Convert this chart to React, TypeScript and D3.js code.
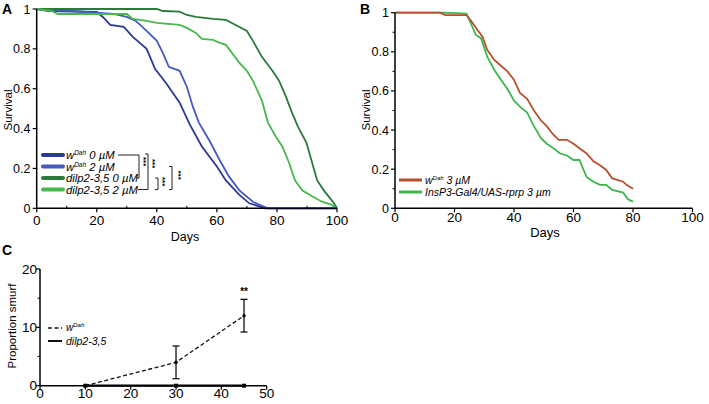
import React from "react";
import * as d3 from "d3";

// ---------- Panel A data ----------
const xTicksA = [0, 20, 40, 60, 80, 100];
const xMinorA = [10, 30, 50, 70, 90];
const yTicksA = [0, 0.2, 0.4, 0.6, 0.8, 1];
const yTickLabelsA = ["0", "0.2", "0.4", "0.6", "0.8", "1"];

const daysW0 = [0, 4, 20, 22, 24.5, 29, 32, 36.6, 39.4, 43, 47.6, 51, 55, 60, 63, 67.5, 70.8, 74, 76, 100];
const survW0 = [1, 0.99, 0.985, 0.96, 0.92, 0.91, 0.86, 0.8, 0.7, 0.63, 0.53, 0.42, 0.31, 0.21, 0.14, 0.067, 0.025, 0.01, 0, 0];

const daysW2 = [0, 12, 25.6, 30, 33, 36.6, 40, 42, 44, 47.6, 50, 52, 54, 57.5, 61, 64, 67.5, 72, 75, 77, 100];
const survW2 = [1, 0.99, 0.975, 0.96, 0.94, 0.89, 0.84, 0.78, 0.71, 0.69, 0.61, 0.51, 0.43, 0.34, 0.24, 0.16, 0.09, 0.033, 0.012, 0, 0];

const daysD0 = [0, 40, 42, 47.6, 50, 53, 58.7, 63, 65, 70, 72, 75, 78.5, 80.7, 83, 85, 87, 89.8, 91.7, 93.4, 95.6, 97.2, 99, 100];
const survD0 = [1, 1, 0.99, 0.987, 0.97, 0.96, 0.95, 0.945, 0.93, 0.89, 0.84, 0.76, 0.69, 0.64, 0.56, 0.48, 0.41, 0.33, 0.23, 0.14, 0.09, 0.06, 0.025, 0];

const daysD2 = [0, 5, 7, 30, 32, 36.6, 40, 47.6, 50, 53, 55, 58.7, 61, 63, 65, 67.5, 70, 72, 75, 77, 79.6, 81.8, 84, 86, 88.4, 91.7, 95, 98.3, 100];
const survD2 = [1, 0.99, 0.975, 0.975, 0.95, 0.94, 0.93, 0.92, 0.905, 0.88, 0.85, 0.845, 0.83, 0.82, 0.78, 0.73, 0.69, 0.64, 0.54, 0.43, 0.36, 0.31, 0.23, 0.14, 0.09, 0.06, 0.033, 0.017, 0];

const seriesA = [
  { label: " 0 µM", sup: true, days: daysW0, surv: survW0, color: "#2c3a94" },
  { label: " 2 µM", sup: true, days: daysW2, surv: survW2, color: "#4659c2" },
  { label: "dilp2-3,5 0 µM", sup: false, days: daysD0, surv: survD0, color: "#2b7a3c" },
  { label: "dilp2-3,5 2 µM", sup: false, days: daysD2, surv: survD2, color: "#48b84c" },
];

// ---------- Panel B data ----------
const xTicksB = [0, 20, 40, 60, 80, 100];
const yTicksB = [0, 0.2, 0.4, 0.6, 0.8, 1];
const yMinorB = [0.1, 0.3, 0.5, 0.7, 0.9];

const daysWB = [0, 15, 17, 24, 25.5, 27.8, 29.4, 31, 33.3, 35.5, 37.8, 40, 42, 44.4, 46.7, 49, 51, 53, 55, 57.8, 60, 62, 64.4, 66.7, 68.9, 71, 73, 76.7, 77.8, 80];
const survWB = [1, 1, 0.988, 0.988, 0.96, 0.91, 0.877, 0.81, 0.76, 0.73, 0.7, 0.656, 0.59, 0.56, 0.5, 0.45, 0.42, 0.38, 0.35, 0.35, 0.33, 0.307, 0.28, 0.24, 0.22, 0.196, 0.153, 0.136, 0.12, 0.1];

const daysIB = [0, 16, 24, 25.5, 27.2, 28.9, 31, 33.3, 35.5, 37.8, 40, 42, 44.4, 46.7, 49, 51, 53, 55.5, 57.8, 60, 62, 64.4, 66.7, 68.9, 71, 73, 76.7, 78.3, 80];
const survIB = [1, 1, 0.995, 0.945, 0.886, 0.87, 0.775, 0.71, 0.66, 0.61, 0.55, 0.52, 0.49, 0.42, 0.36, 0.33, 0.31, 0.28, 0.27, 0.247, 0.247, 0.16, 0.136, 0.12, 0.12, 0.094, 0.08, 0.046, 0.034];

// ---------- Panel C data ----------
const xTicksC = [0, 10, 20, 30, 40, 50];
const yTicksC = [0, 10, 20];
const yMinorC = [5, 15];
const daysC = [10, 30, 45];
const smurfW = [0, 4, 12];
const smurfWErr = [0, 2.8, 2.8];
const smurfD = [0, 0, 0];

const FONT = "'Liberation Sans', Arial, Helvetica, sans-serif";

function toPts(days: number[], vals: number[]) {
  return days.map((d, i) => [d, vals[i]] as [number, number]);
}

export default function App() {
  const xA = d3.scaleLinear().domain([0, 100]).range([36.7, 337]);
  const yA = d3.scaleLinear().domain([0, 1]).range([208.3, 9]);
  const lineA = d3.line<[number, number]>().x((d) => xA(d[0])).y((d) => yA(d[1]));

  const xB = d3.scaleLinear().domain([0, 100]).range([395, 692.5]);
  const yB = d3.scaleLinear().domain([0, 1]).range([208.3, 12.7]);
  const lineB = d3.line<[number, number]>().x((d) => xB(d[0])).y((d) => yB(d[1]));

  const xC = d3.scaleLinear().domain([0, 50]).range([40, 266.7]);
  const yC = d3.scaleLinear().domain([0, 20]).range([385.7, 269]);
  const lineC = d3.line<[number, number]>().x((d) => xC(d[0])).y((d) => yC(d[1]));

  const legRowsA = [155, 166.5, 178, 189.5];
  const starStyle = { fontSize: 8, fontFamily: FONT, fontWeight: 700 as const };
  const XFS = 13.5;
  const YFS = 12.5;

  const bracket = (x: number, y1: number, y2: number, w: number) =>
    `M${x - w},${y1}H${x}V${y2}H${x - w}`;

  return (
    <div style={{ position: "absolute", left: 0, top: 0 }}>
      <svg width={709} height={404} style={{ display: "block", background: "#fff" }} fontFamily={FONT}>
        {/* ================= Panel A ================= */}
        <text x={2} y={14} fontSize={14} fontWeight={700}>A</text>
        {seriesA.map((s, i) => (
          <path key={i} d={lineA(toPts(s.days, s.surv)) || ""} fill="none" stroke={s.color} strokeWidth={1.8} />
        ))}
        <line x1={xA(0)} x2={xA(100)} y1={yA(0)} y2={yA(0)} stroke="#000" strokeWidth={1.5} />
        <line x1={xA(0)} x2={xA(0)} y1={yA(0)} y2={yA(1)} stroke="#000" strokeWidth={1.5} />
        {xTicksA.map((t) => (
          <g key={t}>
            <line x1={xA(t)} x2={xA(t)} y1={yA(0)} y2={yA(0) + 4} stroke="#000" strokeWidth={1.2} />
            <text x={xA(t)} y={225} fontSize={XFS} textAnchor="middle">{t}</text>
          </g>
        ))}
        {xMinorA.map((t) => (
          <line key={t} x1={xA(t)} x2={xA(t)} y1={yA(0)} y2={yA(0) - 2.5} stroke="#000" strokeWidth={1} />
        ))}
        {yTicksA.map((t, i) => (
          <g key={t}>
            <line x1={xA(0) - 4} x2={xA(0)} y1={yA(t)} y2={yA(t)} stroke="#000" strokeWidth={1.2} />
            <text x={30.5} y={yA(t) + 4.5} fontSize={YFS} textAnchor="end">{yTickLabelsA[i]}</text>
          </g>
        ))}
        <text x={185} y={241} fontSize={12.5} textAnchor="middle">Days</text>
        <text transform={`translate(12,110) rotate(-90)`} fontSize={11.5} textAnchor="middle">Survival</text>
        {seriesA.map((s, i) => (
          <g key={i}>
            <line x1={43} x2={63} y1={legRowsA[i]} y2={legRowsA[i]} stroke={s.color} strokeWidth={4} strokeLinecap="round" />
            <text x={66} y={legRowsA[i] + 4} fontSize={11.3} fontStyle="italic">
              {s.sup ? (
                <>
                  w<tspan fontSize={6.5} dy={-4}>Dah</tspan>
                  <tspan dy={4}>{s.label}</tspan>
                </>
              ) : (
                s.label
              )}
            </text>
          </g>
        ))}
        <path d={`M118,${legRowsA[0]}H139V${legRowsA[2]}H136`} fill="none" stroke="#222" strokeWidth={1} />
        <text transform={`translate(141,${legRowsA[0] + 2}) rotate(90)`} style={starStyle}>***</text>
        <path d={bracket(148, legRowsA[0] - 1, legRowsA[3], 3)} fill="none" stroke="#222" strokeWidth={1} />
        <path d={`M138,${legRowsA[3]}H145`} fill="none" stroke="#222" strokeWidth={1} />
        <text transform={`translate(150,${legRowsA[0] + 4}) rotate(90)`} style={starStyle}>***</text>
        <path d={bracket(158, legRowsA[2], legRowsA[3], 3)} fill="none" stroke="#222" strokeWidth={1} />
        <text transform={`translate(160,${legRowsA[2] - 1}) rotate(90)`} style={starStyle}>***</text>
        <path d={bracket(172, legRowsA[1], legRowsA[3], 3)} fill="none" stroke="#222" strokeWidth={1} />
        <text transform={`translate(176,${legRowsA[1] + 4}) rotate(90)`} style={starStyle}>***</text>

        {/* ================= Panel B ================= */}
        <text x={360} y={14} fontSize={14} fontWeight={700}>B</text>
        <path d={lineB(toPts(daysIB, survIB)) || ""} fill="none" stroke="#3cb54a" strokeWidth={1.8} />
        <path d={lineB(toPts(daysWB, survWB)) || ""} fill="none" stroke="#b5502f" strokeWidth={1.8} />
        <line x1={xB(0)} x2={xB(100)} y1={yB(0)} y2={yB(0)} stroke="#000" strokeWidth={1.5} />
        <line x1={xB(0)} x2={xB(0)} y1={yB(0)} y2={yB(1)} stroke="#000" strokeWidth={1.5} />
        {xTicksB.map((t) => (
          <g key={t}>
            <line x1={xB(t)} x2={xB(t)} y1={yB(0)} y2={yB(0) + 4} stroke="#000" strokeWidth={1.2} />
            <text x={xB(t)} y={222} fontSize={XFS} textAnchor="middle">{t}</text>
          </g>
        ))}
        {yTicksB.map((t, i) => (
          <g key={t}>
            <line x1={xB(0) - 4} x2={xB(0)} y1={yB(t)} y2={yB(t)} stroke="#000" strokeWidth={1.2} />
            <text x={389} y={yB(t) + 4.5} fontSize={YFS} textAnchor="end">{yTickLabelsA[i]}</text>
          </g>
        ))}
        {yMinorB.map((t) => (
          <line key={t} x1={xB(0) - 2.5} x2={xB(0)} y1={yB(t)} y2={yB(t)} stroke="#000" strokeWidth={1} />
        ))}
        <text x={545} y={237} fontSize={13} textAnchor="middle" fontWeight={500}>Days</text>
        <text transform={`translate(370,110) rotate(-90)`} fontSize={11.5} textAnchor="middle">Survival</text>
        <line x1={399} x2={422} y1={180} y2={180} stroke="#b5502f" strokeWidth={3} />
        <line x1={399} x2={422} y1={192} y2={192} stroke="#3cb54a" strokeWidth={3} />
        <text x={425} y={184} fontSize={10.5} fontStyle="italic">
          w<tspan fontSize={6} dy={-4}>Dah</tspan>
          <tspan dy={4}> 3 µM</tspan>
        </text>
        <text x={425} y={196} fontSize={10.5} fontStyle="italic">InsP3-Gal4/UAS-rprp 3 µm</text>

        {/* ================= Panel C ================= */}
        <text x={2} y={255} fontSize={14} fontWeight={700}>C</text>
        <path d={lineC(toPts(daysC, smurfW)) || ""} fill="none" stroke="#111" strokeWidth={1.3} strokeDasharray="4,2.5" />
        {daysC.map((d, i) =>
          smurfWErr[i] > 0 ? (
            <g key={d} stroke="#111" strokeWidth={1.3}>
              <line x1={xC(d)} x2={xC(d)} y1={yC(smurfW[i] - smurfWErr[i])} y2={yC(smurfW[i] + smurfWErr[i])} />
              <line x1={xC(d) - 3.5} x2={xC(d) + 3.5} y1={yC(smurfW[i] - smurfWErr[i])} y2={yC(smurfW[i] - smurfWErr[i])} />
              <line x1={xC(d) - 3.5} x2={xC(d) + 3.5} y1={yC(smurfW[i] + smurfWErr[i])} y2={yC(smurfW[i] + smurfWErr[i])} />
            </g>
          ) : null
        )}
        {daysC.map((d, i) => (
          <circle key={d} cx={xC(d)} cy={yC(smurfW[i])} r={1.8} fill="#111" />
        ))}
        <line x1={xC(0)} x2={xC(0)} y1={yC(0)} y2={yC(20)} stroke="#000" strokeWidth={1.5} />
        <line x1={xC(0)} x2={xC(50)} y1={yC(0)} y2={yC(0)} stroke="#000" strokeWidth={1.5} />
        <path d={lineC(toPts(daysC, smurfD)) || ""} fill="none" stroke="#000" strokeWidth={2.2} />
        {daysC.map((d, i) => (
          <rect key={d} x={xC(d) - 2} y={yC(smurfD[i]) - 2} width={4} height={4} fill="#000" />
        ))}
        {xTicksC.map((t) => (
          <g key={t}>
            <line x1={xC(t)} x2={xC(t)} y1={yC(0)} y2={yC(0) + 4} stroke="#000" strokeWidth={1.2} />
            <text x={xC(t)} y={398} fontSize={XFS} textAnchor="middle">{t}</text>
          </g>
        ))}
        {yTicksC.map((t) => (
          <g key={t}>
            <line x1={xC(0) - 4} x2={xC(0)} y1={yC(t)} y2={yC(t)} stroke="#000" strokeWidth={1.2} />
            <text x={37} y={yC(t) + 4.5} fontSize={XFS} textAnchor="end">{t}</text>
          </g>
        ))}
        {yMinorC.map((t) => (
          <line key={t} x1={xC(0) - 2.5} x2={xC(0)} y1={yC(t)} y2={yC(t)} stroke="#000" strokeWidth={1} />
        ))}
        <text x={xC(45)} y={yC(14.8) - 4} fontSize={10} textAnchor="middle" fontWeight={700} fill="#000">**</text>
        <text transform={`translate(16,326) rotate(-90)`} fontSize={11.5} textAnchor="middle">Proportion smurf</text>
        <line x1={48} x2={62} y1={328} y2={328} stroke="#111" strokeWidth={1.3} strokeDasharray="4,2.5" />
        <line x1={48} x2={62} y1={341} y2={341} stroke="#111" strokeWidth={2} />
        <text x={66} y={331} fontSize={10} fontStyle="italic">
          w<tspan fontSize={6} dy={-4}>Dah</tspan>
        </text>
        <text x={66} y={345} fontSize={10.5} fontStyle="italic">dilp2-3,5</text>
      </svg>
    </div>
  );
}
